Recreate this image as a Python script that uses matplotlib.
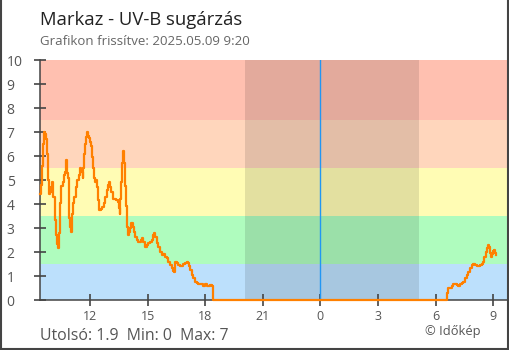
import matplotlib.pyplot as plt
from matplotlib.lines import Line2D

plt.rcParams['font.family'] = ['Open Sans', 'DejaVu Sans']
plt.rcParams['path.simplify'] = False

# hours since midnight of the first day, UV-B index
hours = [9.40, 9.45, 9.50, 9.55, 9.60, 9.66, 9.71, 9.76, 9.80, 9.84, 9.89, 9.93, 9.98,
         10.05, 10.09, 10.16, 10.21, 10.27, 10.33, 10.39, 10.44, 10.49, 10.58, 10.65,
         10.70, 10.75, 10.80, 10.84, 10.89, 10.92, 10.98, 11.03, 11.06, 11.10, 11.17,
         11.26, 11.34, 11.43, 11.48, 11.55, 11.62, 11.65, 11.70, 11.76, 11.79, 11.86,
         11.91, 11.96, 12.02, 12.05, 12.10, 12.16, 12.21, 12.26, 12.30, 12.35, 12.40,
         12.47, 12.56, 12.64, 12.73, 12.80, 12.87, 12.95, 13.01, 13.06, 13.11, 13.18,
         13.25, 13.35, 13.44, 13.49, 13.55, 13.59, 13.63, 13.68, 13.73, 13.76, 13.81,
         13.86, 13.91, 13.96, 14.02, 14.08, 14.15, 14.22, 14.29, 14.36, 14.43, 14.52,
         14.60, 14.66, 14.71, 14.78, 14.86, 14.95, 15.04, 15.13, 15.21, 15.30, 15.35,
         15.40, 15.47, 15.56, 15.65, 15.73, 15.82, 15.91, 15.99, 16.08, 16.17, 16.26,
         16.34, 16.39, 16.44, 16.52, 16.60, 16.69, 16.78, 16.86, 16.95, 17.04, 17.09,
         17.14, 17.21, 17.30, 17.38, 17.47, 17.56, 17.64, 17.73, 17.82, 17.90, 17.99,
         18.08, 18.16, 18.25, 18.34, 18.39, 18.42, 30.54, 30.58, 30.65, 30.75, 30.84,
         30.92, 31.01, 31.10, 31.18, 31.27, 31.36, 31.45, 31.53, 31.62, 31.70, 31.79,
         31.88, 31.96, 32.05, 32.14, 32.22, 32.31, 32.40, 32.47, 32.54, 32.61, 32.68,
         32.73, 32.77, 32.82, 32.87, 32.92, 32.99, 33.04, 33.09, 33.16]
uvb = [4.4, 4.8, 5.6, 6.5, 7.0, 6.9, 6.7, 6.1, 5.4, 5.0, 4.4, 4.5, 4.7,
       4.9, 4.3, 3.33, 2.7, 2.35, 2.15, 2.8, 4.05, 4.75, 4.93, 5.2,
       5.35, 5.83, 5.3, 5.1, 4.3, 3.4, 3.05, 2.85, 3.6, 4.05, 4.3,
       4.72, 5.0, 5.2, 5.5, 5.35, 5.1, 5.5, 6.1, 6.5, 6.8, 7.0,
       6.85, 6.75, 6.6, 6.4, 5.97, 5.5, 5.1, 4.9, 5.0, 4.72, 4.17,
       3.75, 3.8, 3.87, 4.03, 4.3, 4.6, 4.8, 4.93, 4.72, 4.5, 4.2,
       4.2, 4.15, 4.1, 3.85, 3.6, 4.2, 4.9, 5.7, 6.2, 5.7, 4.75,
       3.9, 3.05, 2.7, 2.85, 3.0, 3.2, 3.05, 2.85, 2.64, 2.5, 2.43,
       2.43, 2.5, 2.57, 2.43, 2.22, 2.29, 2.39, 2.43, 2.5, 2.7, 2.8,
       2.64, 2.36, 2.22, 2.01, 1.87, 1.92, 1.8, 1.74, 1.6, 1.46, 1.32,
       1.2, 1.18, 1.6, 1.53, 1.46, 1.42, 1.42, 1.5, 1.56, 1.6, 1.53,
       1.4, 1.25, 1.04, 0.9, 0.76, 0.69, 0.67, 0.67, 0.65, 0.6, 0.67,
       0.58, 0.6, 0.62, 0.6, 0.6, 0, 0, 0.28, 0.5, 0.5, 0.58,
       0.67, 0.67, 0.62, 0.58, 0.65, 0.69, 0.76, 0.9, 1.04, 1.18, 1.32,
       1.46, 1.49, 1.46, 1.43, 1.42, 1.44, 1.49, 1.6, 1.8, 2.01, 2.15,
       2.3, 2.22, 1.94, 1.8, 1.92, 2.05, 2.08, 1.97, 1.87]

band_edges = [0, 1.5, 3.5, 5.5, 7.5, 10]
band_colors = ['#bce0fc', '#affcbe', '#fffcb4', '#ffd6bc', '#ffc0b0']
night = (20.07, 29.14)
midnight = 24
tick_hours = [12, 15, 18, 21, 24, 27, 30, 33]
tick_labels = ['12', '15', '18', '21', '0', '3', '6', '9']
x_range = (9.40, 33.77)

fig = plt.figure(figsize=(5.1, 3.5), dpi=100)
ax = fig.add_axes([40 / 510, 50 / 350, 468 / 510, 240 / 350])

for lo, hi, c in zip(band_edges[:-1], band_edges[1:], band_colors):
    ax.axhspan(lo, hi, color=c, lw=0, zorder=0)
ax.axvspan(night[0], night[1], color='black', alpha=0.11, lw=0, zorder=1)
ax.axvline(midnight, color='#2196f3', lw=1, zorder=2)

ax.plot(hours, uvb, color='#ff8000', lw=1.6, zorder=10, clip_on=False,
        drawstyle='steps-post')

ax.set_xlim(*x_range)
ax.set_ylim(0, 10)
ax.set_xticks(tick_hours)
ax.set_xticklabels(tick_labels)
ax.set_yticks(range(11))

for s in ['top', 'right']:
    ax.spines[s].set_visible(False)
for s in ['left', 'bottom']:
    ax.spines[s].set_color('#444444')
    ax.spines[s].set_linewidth(1.1)
    ax.spines[s].set_zorder(3)

ax.tick_params(axis='both', direction='inout', length=9, width=1.2, color='#444444',
               labelcolor='#555555')
ax.tick_params(axis='x', labelsize=9, pad=3)
ax.tick_params(axis='y', labelsize=10, pad=19.5)
for lab in ax.get_yticklabels():
    lab.set_horizontalalignment('left')

fig.text(40 / 510, 1 - 25 / 350, 'Markaz - UV-B sugárzás', fontsize=13.3, color='#222222',
         va='baseline')
fig.text(40 / 510, 1 - 45 / 350, 'Grafikon frissítve: 2025.05.09 9:20', fontsize=9.5,
         color='#666666', va='baseline')
fig.text(40 / 510, 1 - 340 / 350, 'Utolsó: 1.9  Min: 0  Max: 7', fontsize=11.4,
         color='#555555', va='baseline')
fig.text(425 / 510, 1 - 335 / 350, '© Időkép', fontsize=9.3, color='#555555',
         va='baseline')

# frame around the picture
for xs, ys in [([0.5 / 510, 0.5 / 510], [0, 1]),
               ([508.5 / 510, 508.5 / 510], [0, 1]),
               ([0, 509 / 510], [1.5 / 350, 1.5 / 350])]:
    fig.add_artist(Line2D(xs, ys, color='#444444', lw=1.5))

fig.savefig('out.png', dpi=100)
